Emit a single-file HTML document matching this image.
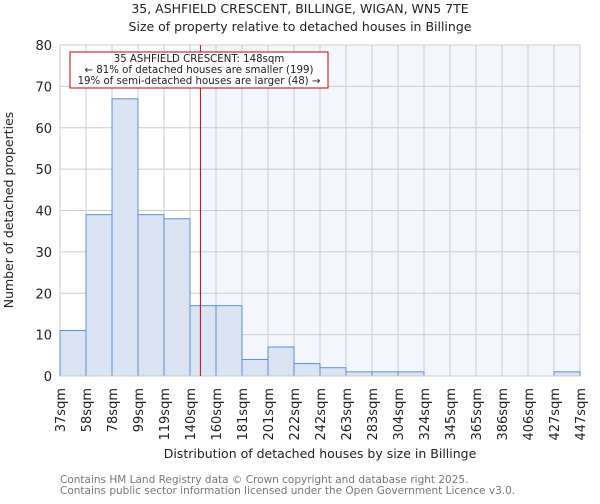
<!DOCTYPE html>
<html><head><meta charset="utf-8"><style>
body{margin:0;background:#fff;font-family:"DejaVu Sans","Liberation Sans",sans-serif}
svg text{font-family:"DejaVu Sans","Liberation Sans",sans-serif}
</style></head><body>
<svg width="600" height="500" xmlns="http://www.w3.org/2000/svg" id="chart">
<text x="300" y="13" text-anchor="middle" font-size="12.5" fill="#222">35, ASHFIELD CRESCENT, BILLINGE, WIGAN, WN5 7TE</text>
<text x="300" y="31" text-anchor="middle" font-size="12.5" fill="#222">Size of property relative to detached houses in Billinge</text>
<g id="plot"></g>
<text transform="translate(13,210) rotate(-90)" text-anchor="middle" font-size="12.5" fill="#222">Number of detached properties</text>
<text x="320" y="458" text-anchor="middle" font-size="12.5" fill="#222">Distribution of detached houses by size in Billinge</text>
<text x="60" y="483" font-size="10.5" fill="#777">Contains HM Land Registry data © Crown copyright and database right 2025.</text>
<text x="60" y="494" font-size="10.5" fill="#777">Contains public sector information licensed under the Open Government Licence v3.0.</text>
</svg>
<script>
const tickLabels=["37sqm","58sqm","78sqm","99sqm","119sqm","140sqm","160sqm","181sqm","201sqm","222sqm","242sqm","263sqm","283sqm","304sqm","324sqm","345sqm","365sqm","386sqm","406sqm","427sqm","447sqm"];
const counts=[11,39,67,39,38,17,17,4,7,3,2,1,1,1,0,0,0,0,0,1];
const yTicks=[0,10,20,30,40,50,60,70,80];
const binEdges=[37,58,78,99,119,140,160,181,201,222,242,263,283,304,324,345,365,386,406,427,447];
const markerValue=148;
const X0=60,X1=580,Y0=376,Y1=45;
const xi=i=>X0+(X1-X0)*i/counts.length;
function xv(v){for(let i=0;i<binEdges.length-1;i++){if(v>=binEdges[i]&&v<=binEdges[i+1])return xi(i)+(v-binEdges[i])/(binEdges[i+1]-binEdges[i])*(xi(i+1)-xi(i));}return X1;}
const y=v=>Y0-(Y0-Y1)*v/80;
const g=document.getElementById('plot');const NS="http://www.w3.org/2000/svg";
function mk(t,a,p){const e=document.createElementNS(NS,t);for(const k in a)e.setAttribute(k,a[k]);(p||g).appendChild(e);return e;}
const mx=xv(markerValue);
let e=mk('rect',{x:mx,y:Y1,width:X1-mx,height:Y0-Y1,fill:'#f3f6fd'});


yTicks.forEach(t=>{let l=mk('line',{x1:X0,x2:X1,y1:y(t),y2:y(t),stroke:'#ccc'});


let tx=mk('text',{x:X0-8,y:y(t)+5,'text-anchor':'end','font-size':13,fill:'#222'});tx.textContent=t;

});
tickLabels.forEach((s,i)=>{let l=mk('line',{x1:xi(i),x2:xi(i),y1:Y1,y2:Y0,stroke:'#ccc'});


let tx=mk('text',{transform:`translate(${xi(i)+5},388) rotate(-90)`,'text-anchor':'end','font-size':13,fill:'#222'});tx.textContent=s;

});
counts.forEach((c,i)=>{if(c<=0)return;let r=mk('rect',{x:xi(i),y:y(c),width:xi(i+1)-xi(i),height:Y0-y(c),fill:'#dae4f3',stroke:'#5b8fd6','stroke-width':1});

});
let ax=mk('line',{x1:X0,x2:X1,y1:Y0,y2:Y0,stroke:'#ccc'});


let ml=mk('line',{x1:mx,x2:mx,y1:Y1,y2:Y0,stroke:'#c00','stroke-width':1});


const ag=mk('g',{});


mk('rect',{x:70,y:52,width:258,height:36,fill:'#fff',stroke:'#c00'},ag);
["35 ASHFIELD CRESCENT: 148sqm","← 81% of detached houses are smaller (199)","19% of semi-detached houses are larger (48) →"].forEach((s,i)=>{let t=mk('text',{x:199,y:62+i*11,'text-anchor':'middle','font-size':10.2,fill:'#222'},ag);t.textContent=s;

});
</script>
</body></html>
